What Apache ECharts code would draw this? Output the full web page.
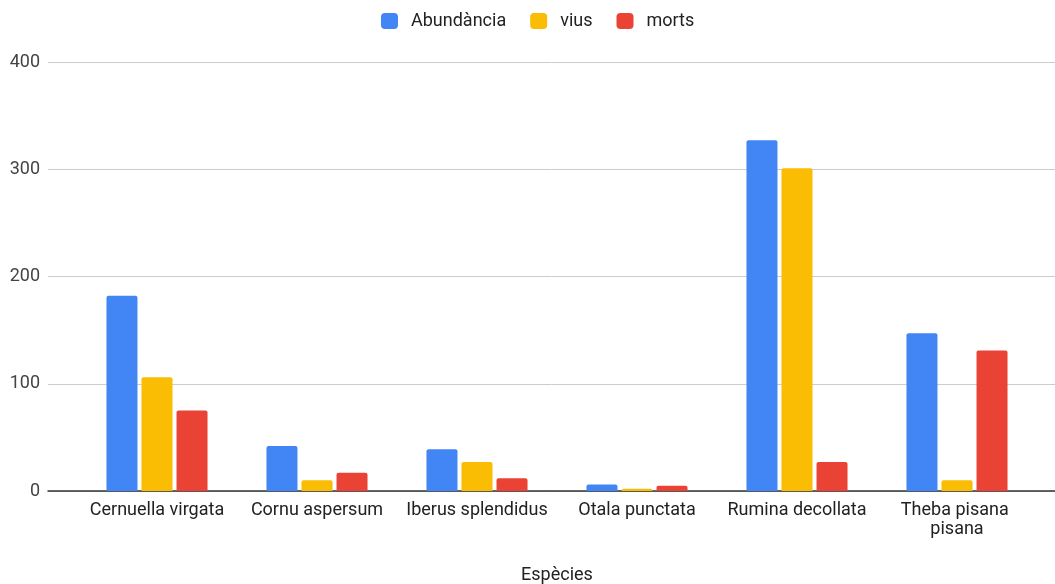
<!DOCTYPE html>
<html>
<head>
<meta charset="utf-8">
<script src="https://cdn.jsdelivr.net/npm/echarts@6/dist/echarts.min.js"></script>
<style>
  html, body { margin: 0; padding: 0; background: #fff; }
  #chart { width: 1055px; height: 584px; }
</style>
</head>
<body>
<div id="chart"></div>
<script>
const species = ['Cernuella virgata', 'Cornu aspersum', 'Iberus splendidus', 'Otala punctata', 'Rumina decollata', 'Theba pisana pisana'];
const abundancia = [182, 42, 39, 6, 327, 147];
const vius = [106, 10, 27, 2, 301, 10];
const morts = [75, 17, 12, 5, 27, 131];
const yTicks = [0, 100, 200, 300, 400];

const font = 'Roboto, "Liberation Sans", Arial, sans-serif';

const bar = (name, data, color) => ({
  name: name,
  type: 'bar',
  data: data,
  barWidth: 31,
  barGap: '13%',
  itemStyle: { color: color, borderRadius: [2, 2, 0, 0] }
});

const chart = echarts.init(document.getElementById('chart'));
chart.setOption({
  animation: false,
  textStyle: { fontFamily: font },
  legend: {
    top: 7,
    left: 376,
    itemWidth: 17,
    itemHeight: 16,
    itemGap: 24,
    icon: 'roundRect',
    data: ['Abundància', 'vius', 'morts'],
    textStyle: { fontSize: 18, color: '#222', fontFamily: font, padding: [0, 0, 0, 8] }
  },
  grid: [
    { left: 77, right: 18, top: 62, bottom: 93, outerBoundsMode: 'none' },
    { left: 48, right: 0, top: 62, bottom: 93, outerBoundsMode: 'none' }
  ],
  xAxis: [{
    type: 'category',
    gridIndex: 0,
    data: species,
    name: 'Espècies',
    nameLocation: 'middle',
    nameGap: 75,
    nameTextStyle: { fontSize: 18, color: '#222', fontFamily: font },
    axisTick: { show: false },
    axisLine: { show: false },
    axisLabel: {
      fontSize: 18, color: '#222', fontFamily: font, margin: 10,
      width: 150, overflow: 'break', interval: 0, lineHeight: 19
    }
  }, {
    type: 'value',
    gridIndex: 1,
    min: 0,
    max: 1,
    axisLabel: { show: false },
    axisTick: { show: false },
    splitLine: { show: false },
    axisLine: { lineStyle: { color: '#333', width: 1.5 } }
  }],
  yAxis: [{
    type: 'value',
    gridIndex: 0,
    min: yTicks[0],
    max: yTicks[yTicks.length - 1],
    interval: 100,
    axisLine: { show: false },
    axisTick: { show: false },
    axisLabel: { fontSize: 18, color: '#444', fontFamily: font, margin: 37 },
    splitLine: { show: false }
  }, {
    type: 'value',
    gridIndex: 1,
    min: yTicks[0],
    max: yTicks[yTicks.length - 1],
    interval: 100,
    axisLine: { show: false },
    axisTick: { show: false },
    axisLabel: { show: false },
    splitLine: { lineStyle: { color: '#ccc' } }
  }],
  series: [
    bar('Abundància', abundancia, '#4285F4'),
    bar('vius', vius, '#FBBC04'),
    bar('morts', morts, '#EA4335')
  ]
});
</script>
</body>
</html>
